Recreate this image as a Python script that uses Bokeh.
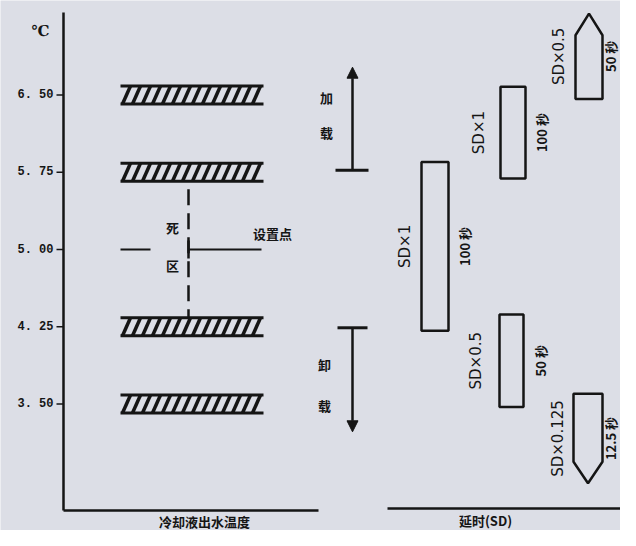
import numpy as np
from bokeh.plotting import figure
from bokeh.models import Range1d, Arrow, NormalHead
from bokeh.core.properties import value
from bokeh.embed import file_html
from bokeh.resources import INLINE

# ---------------- data (°C) ----------------
tick_values = [3.50, 4.25, 5.00, 5.75, 6.50]
tick_labels = ["3. 50", "4. 25", "5. 00", "5. 75", "6. 50"]
y_unit = "℃"
setpoint = 5.00
setpoint_label = "设置点"
threshold_bars = [6.50, 5.75, 4.25, 3.50]
deadband_top = 5.75
deadband_bottom = 4.25
deadband_label = ["死", "区"]
load_from, load_to = 5.77, 6.77
unload_from, unload_to = 4.24, 3.23
load_label = ["加", "载"]
unload_label = ["卸", "载"]
stage_names = ["SD×1", "SD×1", "SD×0.5", "SD×0.5", "SD×0.125"]
stage_times = ["100 秒", "100 秒", "50 秒", "50 秒", "12.5 秒"]
stage_top = [5.85, 6.58, 7.29, 4.37, 3.60]
stage_bottom = [4.21, 5.69, 6.46, 3.47, 2.73]
stage_tip = ["none", "none", "up", "none", "down"]
x_title_left = "冷却液出水温度"
x_title_right = "延时(SD)"

# ---------------- layout (pixels) ----------------
W, H = 620, 530
PX = 103.0          # pixels per °C
Y0 = 249            # pixel row of 5.00
def T(py):          # pixel row -> °C (layout helper)
    return 5.0 + (Y0 - py) / PX

stage_x0 = [421, 500, 575, 499, 573]
stage_x1 = [448, 525, 602, 523, 602]
name_x = [404, 478, 558, 475, 557]
time_x = [464, 541, 610, 540, 610]
tip_depth = 0.21

INK = "#151515"
BG = "#dcdee6"
CJK = value("Noto Sans CJK SC")
MONO = value("Liberation Mono")

p = figure(width=W, height=H, output_backend="svg", toolbar_location=None,
           x_range=Range1d(0, W), y_range=Range1d(T(H), T(0)),
           x_axis_type=None, y_axis_type=None, min_border=0,
           background_fill_color=BG, border_fill_color=BG, outline_line_color=None)
p.grid.visible = False

# y axis line & ticks
p.segment(x0=[63], y0=[T(510)], x1=[63], y1=[T(12)], line_color=INK, line_width=2.5)
p.segment(x0=[56] * len(tick_values), y0=tick_values, x1=[63] * len(tick_values), y1=tick_values,
          line_color=INK, line_width=1.5)
p.text(x=[53] * len(tick_values), y=tick_values, text=tick_labels, text_align="right",
       text_baseline="middle", text_font=MONO, text_font_size="12px", text_font_style="bold",
       text_color=INK)
p.text(x=[40], y=[T(30)], text=[y_unit], text_align="center", text_baseline="middle",
       text_font=value("DejaVu Serif"), text_font_size="15px", text_font_style="bold",
       text_color=INK)

# x axis lines
p.segment(x0=[63, 387], y0=[T(510), T(508)], x1=[318, W], y1=[T(510), T(508)],
          line_color=INK, line_width=2.5)
p.text(x=[204, 485], y=[T(521), T(520)], text=[x_title_left, x_title_right],
       text_align="center", text_baseline="middle", text_font=CJK, text_font_size="13px",
       text_font_style="bold", text_color=INK)

# hatched threshold bars (slanted strokes derived from the bar extents)
hh = 9.0 / PX
bar_x0, bar_x1, step, slant = 120, 263, 10, 8
hx0, hy0, hx1, hy1 = [], [], [], []
for v in threshold_bars:
    for x in np.arange(bar_x0 + 2, bar_x1 - slant, step):
        hx0.append(x); hy0.append(v - hh); hx1.append(x + slant); hy1.append(v + hh)
p.segment(x0=hx0, y0=hy0, x1=hx1, y1=hy1, line_color=INK, line_width=3.5)
p.segment(x0=[bar_x0] * 8, x1=[bar_x1] * 8,
          y0=[v + s * hh for v in threshold_bars for s in (1, -1)],
          y1=[v + s * hh for v in threshold_bars for s in (1, -1)],
          line_color=INK, line_width=3)

# dead band
p.line(x=[188, 188], y=[deadband_top - hh, deadband_bottom + hh], line_color=INK,
       line_width=2.5, line_dash="16 8", line_dash_offset=-8)
p.segment(x0=[188], y0=[setpoint + 9 / PX], x1=[188], y1=[setpoint - 9 / PX],
          line_color=INK, line_width=2.5)
p.segment(x0=[120, 188], y0=[setpoint, setpoint], x1=[150, 261], y1=[setpoint, setpoint],
          line_color=INK, line_width=2)
p.text(x=[172, 172], y=[setpoint + 22 / PX, setpoint - 16 / PX], text=deadband_label,
       text_align="center", text_baseline="middle", text_font=CJK, text_font_size="13px",
       text_font_style="bold", text_color=INK)
p.text(x=[272], y=[setpoint + 16 / PX], text=[setpoint_label], text_align="center",
       text_baseline="middle", text_font=CJK, text_font_size="13px", text_font_style="bold",
       text_color=INK)

# load / unload arrows
for f, t in ((load_from, load_to), (unload_from, unload_to)):
    p.add_layout(Arrow(x_start=352, y_start=f, x_end=352, y_end=t, line_color=INK, line_width=2.5,
                       end=NormalHead(size=11, fill_color=INK, line_color=INK)))
p.segment(x0=[335, 337], y0=[load_from, unload_from], x1=[368, 367], y1=[load_from, unload_from],
          line_color=INK, line_width=3)
p.text(x=[326, 326], y=[T(97), T(132)], text=load_label, text_align="center",
       text_baseline="middle", text_font=CJK, text_font_size="13px", text_font_style="bold",
       text_color=INK)
p.text(x=[324, 324], y=[T(364), T(405)], text=unload_label, text_align="center",
       text_baseline="middle", text_font=CJK, text_font_size="13px", text_font_style="bold",
       text_color=INK)

# delay stages
xs, ys = [], []
for x0, x1, top, bot, tip in zip(stage_x0, stage_x1, stage_top, stage_bottom, stage_tip):
    xm = (x0 + x1) / 2
    if tip == "up":
        xs.append([x0, x0, xm, x1, x1]); ys.append([bot, top - tip_depth, top, top - tip_depth, bot])
    elif tip == "down":
        xs.append([x0, x0, xm, x1, x1]); ys.append([top, bot + tip_depth, bot, bot + tip_depth, top])
    else:
        xs.append([x0, x0, x1, x1]); ys.append([bot, top, top, bot])
p.patches(xs=xs, ys=ys, fill_color=BG, line_color=INK, line_width=2.5)
mid = [(a + b) / 2 for a, b in zip(stage_top, stage_bottom)]
p.text(x=name_x, y=mid, text=stage_names, angle=np.pi / 2, text_align="center",
       text_baseline="middle", text_font=value("DejaVu Sans"), text_font_size="15px",
       text_color=INK)
p.text(x=time_x, y=mid, text=stage_times, angle=np.pi / 2, text_align="center",
       text_baseline="middle", text_font=CJK, text_font_size="13px", text_font_style="bold",
       text_color=INK)

open("out.html", "w").write(file_html(p, INLINE))
